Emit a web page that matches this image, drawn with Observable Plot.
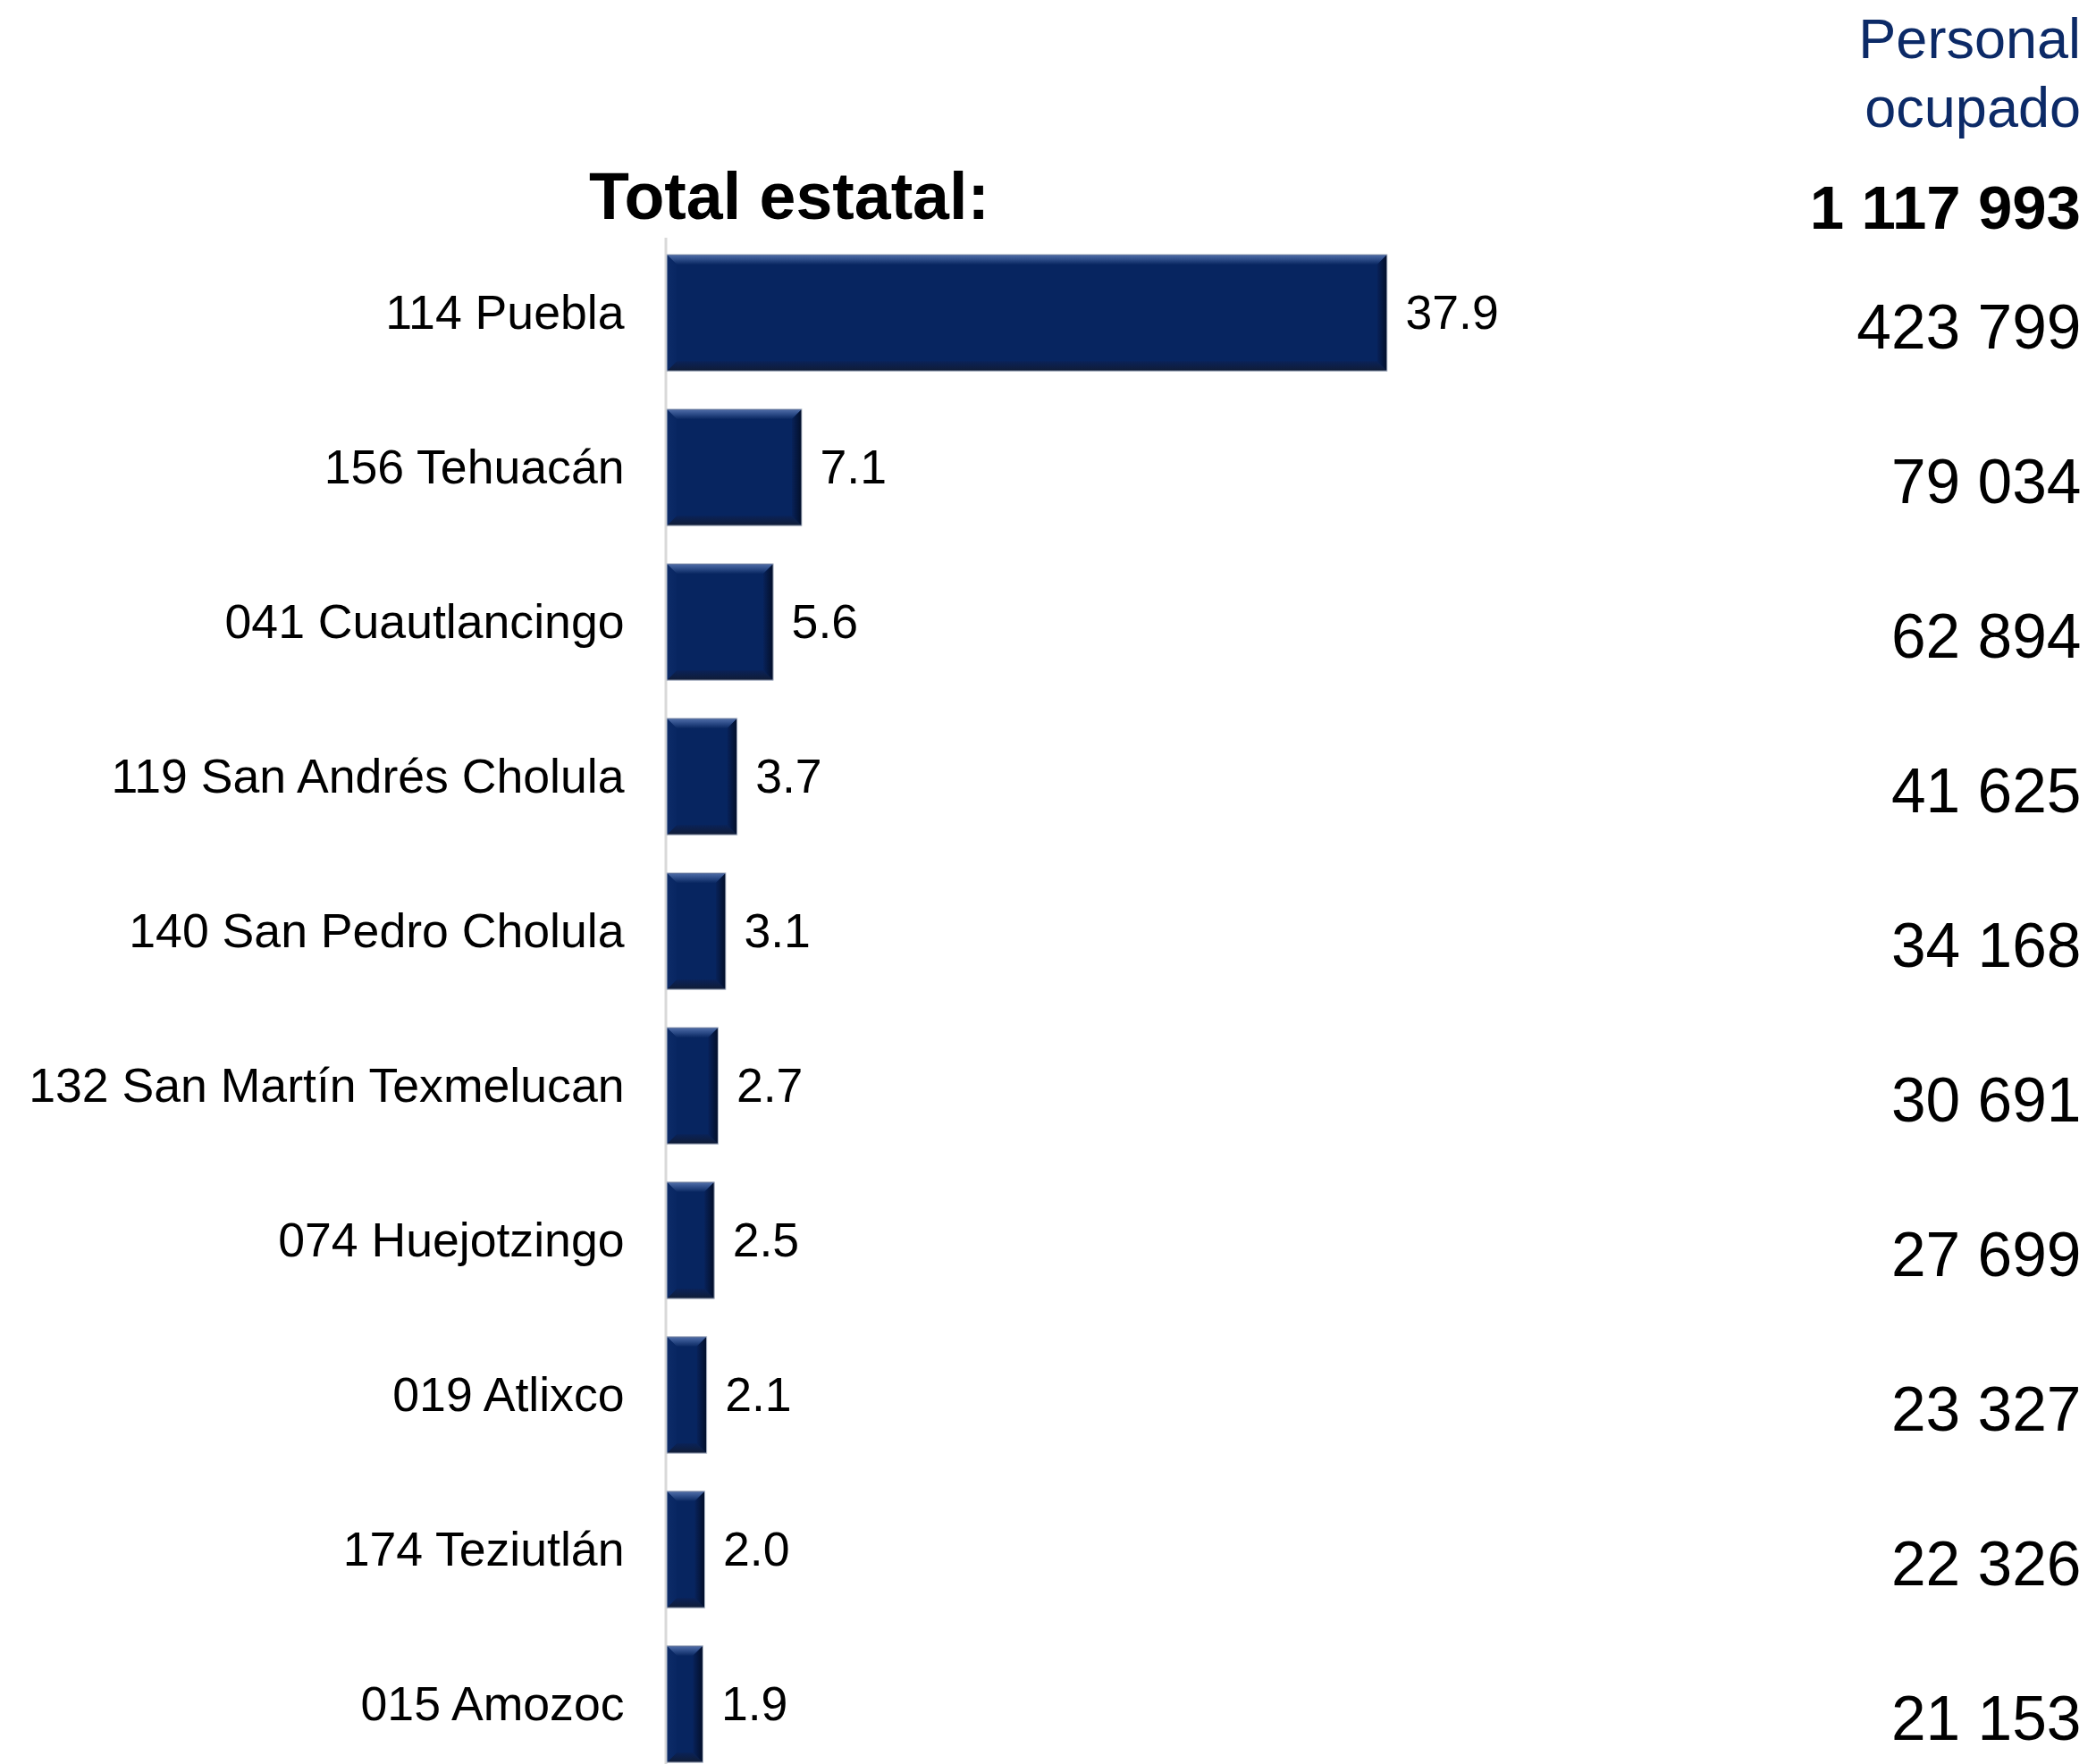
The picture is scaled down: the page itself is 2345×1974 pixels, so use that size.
<!DOCTYPE html>
<html>
<head>
<meta charset="utf-8">
<script src="https://cdn.jsdelivr.net/npm/d3@7"></script>
<script src="https://cdn.jsdelivr.net/npm/@observablehq/plot@0.6"></script>
<style>
  html, body { margin: 0; padding: 0; background: #fff; }
  body { width: 2345px; height: 1974px; position: relative; overflow: hidden;
         font-family: "Liberation Sans", Arial, sans-serif; }
  .hdr { position: absolute; white-space: nowrap; }
  #personal { right: 17px; top: 5px; font-size: 63px; line-height: 77px; color: #0c2a67; text-align: right; }
  #total-label { left: 659px; top: 183px; font-size: 73.5px; line-height: 1; font-weight: bold; color: #000; }
  #total-value { right: 17px; top: 198px; font-size: 69px; line-height: 1; font-weight: bold; color: #000; text-align: right; }
  #chart { position: absolute; left: 0; top: 266px; }
</style>
</head>
<body>
<div id="personal" class="hdr">Personal<br>ocupado</div>
<div id="total-label" class="hdr">Total estatal:</div>
<div id="total-value" class="hdr"></div>
<div id="chart"></div>
<script>
// ---- data ----
const municipios = [
  "114 Puebla",
  "156 Tehuacán",
  "041 Cuautlancingo",
  "119 San Andrés Cholula",
  "140 San Pedro Cholula",
  "132 San Martín Texmelucan",
  "074 Huejotzingo",
  "019 Atlixco",
  "174 Teziutlán",
  "015 Amozoc"
];
const porcentajes = [37.9, 7.1, 5.6, 3.7, 3.1, 2.7, 2.5, 2.1, 2.0, 1.9];
const personalOcupado = [423799, 79034, 62894, 41625, 34168, 30691, 27699, 23327, 22326, 21153];
const totalEstatal = 1117993;

const fmtMiles = v => d3.format(",")(v).replace(/,/g, " ");
document.getElementById("total-value").textContent = fmtMiles(totalEstatal);

const data = municipios.map((name, i) => ({
  name,
  share: porcentajes[i],
  personal: personalOcupado[i]
}));

// bevel overlay drawn through Plot's own x / y scales
function bevelMark(index, scales) {
  const g = d3.create("svg:g");
  const defs = g.append("defs");
  const grad = (id, stops, vertical) => {
    const lg = defs.append("linearGradient").attr("id", id)
      .attr("x1", 0).attr("y1", 0).attr("x2", vertical ? 0 : 1).attr("y2", vertical ? 1 : 0);
    stops.forEach(([o, c]) => lg.append("stop").attr("offset", o).attr("stop-color", c));
  };
  grad("bvTop", [[0, "#1a3470"], [0.15, "#4765a0"], [0.5, "#2d4c88"], [1, "#0a2862"]], true);
  grad("bvBottom", [[0, "#0a2258"], [1, "#101c36"]], true);
  grad("bvRight", [[0, "#08225a"], [1, "#020e28"]], false);
  grad("bvLeft", [[0, "#0d2c68"], [1, "#082662"]], false);
  const x = scales.x, y = scales.y;
  const bw = y.bandwidth ? y.bandwidth() : scales.scales.y.bandwidth;
  const b = 11;
  for (const d of data) {
    const x0 = x(0), x1 = x(d.share), y0 = y(d.name), y1 = y0 + bw;
    const bb = Math.min(b, (x1 - x0) / 2);
    const poly = (pts, fill) => g.append("polygon").attr("points", pts.map(p => p.join(",")).join(" ")).attr("fill", fill);
    poly([[x0, y0], [x1, y0], [x1 - bb, y0 + b], [x0 + bb, y0 + b]], "url(#bvTop)");
    poly([[x0, y1], [x1, y1], [x1 - bb, y1 - b], [x0 + bb, y1 - b]], "url(#bvBottom)");
    poly([[x1, y0], [x1, y1], [x1 - bb, y1 - b], [x1 - bb, y0 + b]], "url(#bvRight)");
    poly([[x0, y0], [x0, y1], [x0 + bb, y1 - b], [x0 + bb, y0 + b]], "url(#bvLeft)");
    g.append("rect").attr("x", x0).attr("y", y0).attr("width", x1 - x0).attr("height", bw)
      .attr("fill", "none").attr("stroke", "#b9c1cf").attr("stroke-width", 1);
  }
  return g.node();
}

const chart = Plot.plot({
  width: 2345,
  height: 1708,
  marginLeft: 746,
  marginRight: 17,
  marginTop: 0,
  marginBottom: 0,
  style: {
    fontFamily: "Liberation Sans, Arial, sans-serif",
    color: "#000",
    background: "transparent"
  },
  x: { domain: [0, 74.4], axis: null },
  y: { domain: municipios, paddingInner: 0.247, paddingOuter: 0.06, align: 0.91, round: false, label: null },
  marks: [
    Plot.axisY({ tickSize: 0, tickPadding: 48, fontSize: 53.6, label: null }),
    Plot.ruleX([0], { stroke: "#d9d9d9", strokeWidth: 3, dx: -1.5 }),
    Plot.barX(data, { y: "name", x: "share", fill: "#072560" }),
    bevelMark,
    Plot.text(data, { y: "name", x: "share", text: d => d.share.toFixed(1), dx: 20, textAnchor: "start", fontSize: 53.6, fill: "#000" }),
    Plot.text(data, { y: "name", text: d => fmtMiles(d.personal), frameAnchor: "right", textAnchor: "end", dy: 17, fontSize: 69.5, fill: "#000" })
  ]
});
document.getElementById("chart").appendChild(chart);
</script>
</body>
</html>
